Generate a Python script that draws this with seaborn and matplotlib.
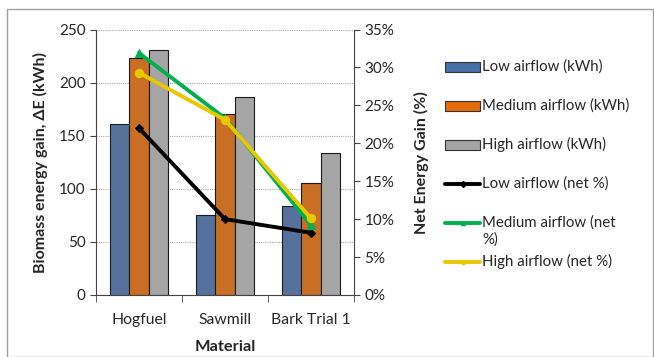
import numpy as np
import pandas as pd
import matplotlib
matplotlib.use("Agg")
import matplotlib.pyplot as plt
from matplotlib.lines import Line2D
from matplotlib.patches import Rectangle
from matplotlib.ticker import PercentFormatter, FixedLocator
import seaborn as sns

# dados
materiais = ["Hogfuel", "Sawmill", "Bark Trial 1"]
fluxos = ["Low airflow (kWh)", "Medium airflow (kWh)", "High airflow (kWh)"]
ganho_low = [161, 75, 84]
ganho_med = [223, 170, 105]
ganho_high = [231, 186, 134]
net_low = [22.0, 10.0, 8.2]
net_med = [31.9, 23.3, 9.2]
net_high = [29.3, 23.1, 10.1]
rotulos_net = ["Low airflow (net %)", "Medium airflow (net\n%)", "High airflow (net %)"]

cores_barras = ["#4A70A8", "#E46C0A", "#A5A5A5"]
cores_linhas = ["#000000", "#00B050", "#E8C800"]

df = pd.DataFrame({
    "material": materiais * 3,
    "fluxo": [fluxos[0]] * 3 + [fluxos[1]] * 3 + [fluxos[2]] * 3,
    "ganho": ganho_low + ganho_med + ganho_high,
})

sns.set_style("white")
plt.rcParams["font.family"] = ["Lato", "DejaVu Sans"]

fig = plt.figure(figsize=(6.54, 3.57), dpi=100)
ax = fig.add_axes([96 / 654, 1 - 295 / 357, 258 / 654, 265.5 / 357])

sns.barplot(data=df, x="material", y="ganho", hue="fluxo", palette=cores_barras,
            order=materiais, hue_order=fluxos, width=0.67, edgecolor="#1A1A1A",
            linewidth=0.8, ax=ax, legend=False, zorder=2)

ax.set_ylim(0, 250)
ax.set_xlim(-0.5, 2.5)
ax.set_yticks([0, 50, 100, 150, 200, 250])
ax.yaxis.grid(True, linestyle=(0, (1, 1)), color="#AAAAAA", linewidth=0.8)
ax.set_axisbelow(True)
ax.tick_params(axis="y", labelsize=11, length=4, direction="out", left=True, color="#444444")
ax.set_xticks([0, 1, 2])
ax.set_xticklabels(materiais, fontsize=11.3)
ax.tick_params(axis="x", length=0, pad=13)
ax.xaxis.set_minor_locator(FixedLocator([-0.5, 0.5, 1.5, 2.5]))
ax.tick_params(axis="x", which="minor", length=5, direction="out", bottom=True, color="#444444")
ax.set_xlabel("Material", fontsize=11.8, fontweight="bold", labelpad=9)
ax.set_ylabel("Biomass energy gain, ΔE (kWh)", fontsize=11.5, fontweight="bold", labelpad=8)
for s in ["top", "right"]:
    ax.spines[s].set_visible(False)
for s in ["left", "bottom"]:
    ax.spines[s].set_color("#444444")

ax2 = ax.twinx()
x = np.arange(len(materiais))
marcadores = ["D", "^", "o"]
tamanhos = [4, 6, 6]
for serie, cor, m, ms in zip([net_low, net_med, net_high], cores_linhas, marcadores, tamanhos):
    sns.lineplot(x=x, y=serie, color=cor, marker=m, markersize=ms, markeredgecolor=cor,
                 linewidth=2.8, ax=ax2, legend=False)
ax2.set_ylim(0, 35)
ax2.set_yticks(range(0, 36, 5))
ax2.yaxis.set_major_formatter(PercentFormatter(decimals=0))
ax2.tick_params(axis="y", labelsize=11, length=4, direction="out", right=True, color="#444444")
ax2.set_ylabel("Net Energy Gain (%)", fontsize=11.5, fontweight="bold", labelpad=14)
for s in ["top", "left", "bottom"]:
    ax2.spines[s].set_visible(False)
ax2.spines["right"].set_color("#444444")
ax2.set_xlim(-0.5, 2.5)

# legenda desenhada à mão, no estilo do Excel
x0, x1, xt = 445 / 654, 480 / 654, 482 / 654
for i, (rot, cor) in enumerate(zip(fluxos + rotulos_net, cores_barras + cores_linhas)):
    yc = 1 - (67 + 39 * i) / 357
    if i < 3:
        fig.add_artist(Rectangle((x0, yc - 5 / 357), x1 - x0, 10 / 357, transform=fig.transFigure,
                                 facecolor=cor, edgecolor="#333333", linewidth=0.8))
    else:
        fig.add_artist(Line2D([x0, x1], [yc, yc], transform=fig.transFigure, color=cor, linewidth=2.8))
        fig.add_artist(Line2D([(x0 + x1) / 2], [yc], transform=fig.transFigure, color=cor,
                              marker=marcadores[i - 3], markersize=3))
    fig.text(xt, yc + 8 / 357, rot, fontsize=10.8, va="top", ha="left", linespacing=1.25)

fig.add_artist(Rectangle((7 / 654, 0), 1 - 8 / 654, 1 - 9 / 357, transform=fig.transFigure,
                         fill=False, edgecolor="#A0A0A0", linewidth=1))

fig.savefig("out.png", dpi=100)
plt.close()
